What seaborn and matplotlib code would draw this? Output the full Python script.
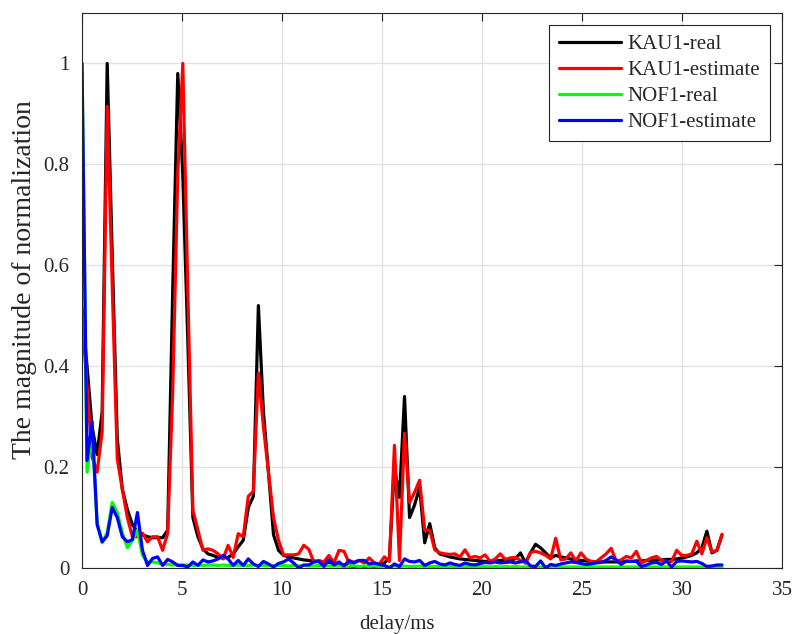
import numpy as np
import pandas as pd
import matplotlib
matplotlib.use('Agg')
import matplotlib.pyplot as plt
import seaborn as sns
from matplotlib.ticker import FormatStrFormatter

# 128 delay samples between 0 and 32 ms
delay_ms = np.linspace(0, 32, 128)

kau1_real = [
    0.515, 0.40, 0.28, 0.225, 0.31, 1.0, 0.62, 0.256, 0.156, 0.116,
    0.086, 0.072, 0.066, 0.062, 0.06, 0.06, 0.06, 0.075, 0.55, 0.98,
    0.78, 0.45, 0.10, 0.062, 0.038, 0.028, 0.025, 0.021, 0.02, 0.021,
    0.028, 0.042, 0.055, 0.12, 0.142, 0.52, 0.31, 0.19, 0.066, 0.035,
    0.025, 0.022, 0.02, 0.018, 0.016, 0.015, 0.014, 0.013, 0.012, 0.011,
    0.01, 0.008, 0.006, 0.004, 0.003, 0.002, 0.002, 0.002, 0.003, 0.005,
    0.01, 0.02, 0.20, 0.14, 0.34, 0.10, 0.125, 0.16, 0.05, 0.088,
    0.04, 0.028, 0.025, 0.022, 0.02, 0.018, 0.017, 0.016, 0.015, 0.014,
    0.013, 0.013, 0.014, 0.015, 0.016, 0.016, 0.018, 0.03, 0.01, 0.03,
    0.047, 0.04, 0.03, 0.02, 0.025, 0.022, 0.02, 0.018, 0.016, 0.015,
    0.014, 0.013, 0.012, 0.012, 0.012, 0.012, 0.012, 0.012, 0.013, 0.013,
    0.014, 0.014, 0.015, 0.015, 0.016, 0.016, 0.017, 0.017, 0.018, 0.02,
    0.022, 0.025, 0.03, 0.04, 0.073, 0.03, 0.035, 0.065,
]

kau1_estimate = [
    0.50, 0.36, 0.22, 0.19, 0.27, 0.915, 0.56, 0.216, 0.156, 0.10,
    0.062, 0.062, 0.069, 0.052, 0.062, 0.062, 0.035, 0.069, 0.35, 0.78,
    1.0, 0.55, 0.115, 0.075, 0.035, 0.038, 0.035, 0.028, 0.018, 0.045,
    0.021, 0.068, 0.062, 0.142, 0.152, 0.387, 0.28, 0.19, 0.10, 0.055,
    0.026, 0.026, 0.026, 0.028, 0.045, 0.037, 0.012, 0.015, 0.012, 0.025,
    0.01, 0.035, 0.033, 0.01, 0.012, 0.015, 0.01, 0.02, 0.01, 0.008,
    0.022, 0.013, 0.243, 0.015, 0.267, 0.13, 0.15, 0.174, 0.075, 0.075,
    0.036, 0.03, 0.028, 0.027, 0.028, 0.022, 0.036, 0.02, 0.023, 0.02,
    0.026, 0.013, 0.018, 0.028, 0.017, 0.02, 0.021, 0.015, 0.01, 0.031,
    0.033, 0.03, 0.025, 0.018, 0.059, 0.016, 0.018, 0.03, 0.014, 0.03,
    0.018, 0.013, 0.012, 0.02, 0.028, 0.039, 0.014, 0.016, 0.023, 0.02,
    0.033, 0.01, 0.015, 0.02, 0.023, 0.015, 0.013, 0.013, 0.035, 0.025,
    0.025, 0.028, 0.053, 0.028, 0.06, 0.032, 0.035, 0.067,
]

nof1_real = [
    1.0, 0.19, 0.27, 0.09, 0.05, 0.07, 0.13, 0.11, 0.07, 0.04,
    0.055, 0.075, 0.025, 0.012, 0.012, 0.01, 0.008, 0.007, 0.006, 0.006,
    0.006, 0.006, 0.005, 0.006, 0.005, 0.006, 0.006, 0.005, 0.006, 0.005,
    0.005, 0.006, 0.005, 0.005, 0.006, 0.005, 0.005, 0.005, 0.004, 0.005,
    0.005, 0.004, 0.005, 0.004, 0.005, 0.004, 0.004, 0.005, 0.004, 0.004,
    0.004, 0.004, 0.003, 0.004, 0.004, 0.003, 0.004, 0.003, 0.004, 0.003,
    0.004, 0.003, 0.004, 0.003, 0.004, 0.003, 0.003, 0.004, 0.003, 0.003,
    0.003, 0.003, 0.003, 0.003, 0.003, 0.003, 0.003, 0.003, 0.003, 0.003,
    0.003, 0.002, 0.003, 0.002, 0.003, 0.002, 0.003, 0.002, 0.002, 0.003,
    0.002, 0.002, 0.002, 0.002, 0.002, 0.002, 0.002, 0.002, 0.002, 0.002,
    0.002, 0.002, 0.002, 0.002, 0.002, 0.002, 0.002, 0.002, 0.002, 0.002,
    0.002, 0.002, 0.002, 0.002, 0.002, 0.002, 0.002, 0.002, 0.002, 0.002,
    0.002, 0.002, 0.002, 0.002, 0.002, 0.002, 0.002, 0.002,
]

nof1_estimate = [
    1.0, 0.213, 0.29, 0.086, 0.052, 0.064, 0.12, 0.10, 0.062, 0.052,
    0.056, 0.11, 0.035, 0.005, 0.019, 0.022, 0.005, 0.017, 0.012, 0.005,
    0.005, 0.002, 0.012, 0.005, 0.016, 0.012, 0.014, 0.018, 0.025, 0.018,
    0.005, 0.015, 0.005, 0.018, 0.008, 0.003, 0.013, 0.008, 0.002, 0.009,
    0.012, 0.018, 0.01, 0.0, 0.006, 0.006, 0.012, 0.013, 0.003, 0.016,
    0.006, 0.012, 0.004, 0.015, 0.01, 0.015, 0.015, 0.008, 0.01, 0.007,
    0.005, 0.0, 0.008, 0.003, 0.018, 0.013, 0.012, 0.015, 0.005, 0.01,
    0.013, 0.008, 0.006, 0.01, 0.007, 0.005, 0.01, 0.007, 0.006, 0.009,
    0.011, 0.01, 0.012, 0.01, 0.011, 0.012, 0.01, 0.012, 0.015, 0.004,
    0.003, 0.014, 0.0, 0.007, 0.005, 0.008, 0.01, 0.012, 0.011, 0.009,
    0.007, 0.008, 0.01, 0.011, 0.015, 0.022, 0.016, 0.007, 0.014, 0.013,
    0.013, 0.003, 0.006, 0.01, 0.011, 0.007, 0.014, 0.002, 0.013, 0.014,
    0.013, 0.012, 0.013, 0.009, 0.003, 0.004, 0.006, 0.006,
]

series_names = ['KAU1-real', 'KAU1-estimate', 'NOF1-real', 'NOF1-estimate']
series_colors = ['#000000', '#ff0000', '#00ff00', '#0000ff']

x_ticks = [0, 5, 10, 15, 20, 25, 30, 35]
y_ticks = [0, 0.2, 0.4, 0.6, 0.8, 1.0]

# long-form table for seaborn
df = pd.concat([
    pd.DataFrame({'delay': delay_ms, 'magnitude': vals, 'series': name})
    for name, vals in zip(series_names, [kau1_real, kau1_estimate, nof1_real, nof1_estimate])
], ignore_index=True)

sns.set_theme(style='whitegrid')
plt.rcParams.update({
    'font.size': 15,
    'axes.edgecolor': '#262626',
    'axes.linewidth': 0.8,
    'grid.color': '#e3e3e3',
    'grid.linewidth': 1.0,
})
plt.rcParams['font.family'] = ['Liberation Serif', 'DejaVu Serif']

fig = plt.figure(figsize=(8, 6.34), dpi=100)
ax = fig.add_axes([0.1025, 0.1041, 0.875, 0.8754])

sns.lineplot(data=df, x='delay', y='magnitude', hue='series', hue_order=series_names,
             palette=dict(zip(series_names, series_colors)), linewidth=2.3,
             estimator=None, errorbar=None, sort=False, ax=ax)

ax.set_xlim(0, 35)
ax.set_ylim(0, 1.1)
ax.set_xticks(x_ticks)
ax.set_yticks(y_ticks)
ax.yaxis.set_major_formatter(FormatStrFormatter('%g'))
ax.tick_params(direction='in', top=True, right=True, length=6, width=0.8,
               colors='#262626', labelsize=15)
ax.tick_params(axis='x', pad=9)
ax.tick_params(axis='y', pad=9)
ax.set_xlabel('delay/ms', fontsize=15, color='#262626')
ax.set_ylabel('The magnitude of normalization', fontsize=20, color='#262626')
ax.xaxis.set_label_coords(0.45, -0.085)
ax.yaxis.set_label_coords(-0.064, 0.52)

leg = ax.legend(loc='upper right', fontsize=15, frameon=True, fancybox=False,
                edgecolor='#262626', framealpha=1, handlelength=3.0,
                handletextpad=0.3, labelspacing=0.3, borderaxespad=0.6,
                borderpad=0.45)
leg.get_frame().set_linewidth(0.8)

fig.savefig('out.png', dpi=100)
